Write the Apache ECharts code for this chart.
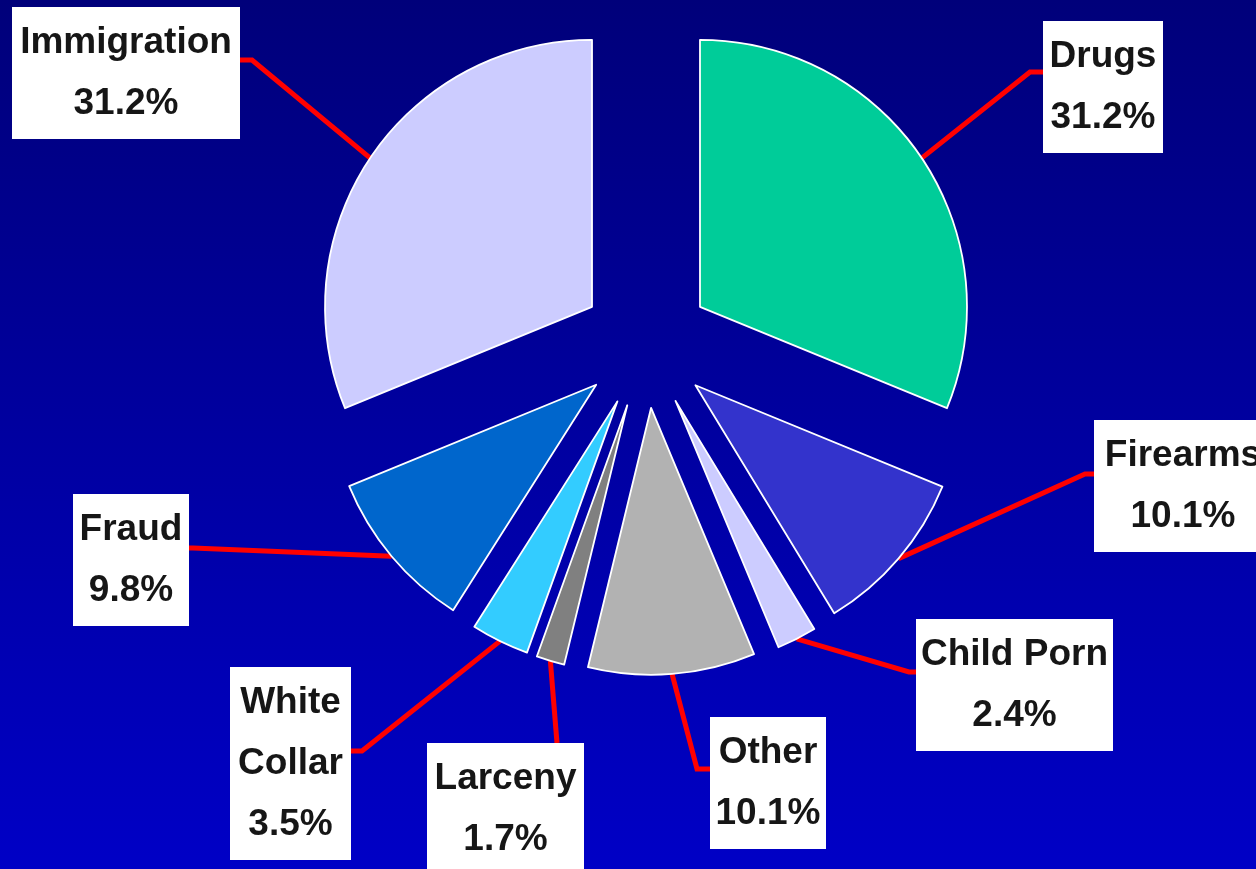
<!DOCTYPE html>
<html>
<head>
<meta charset="utf-8">
<script src="https://cdn.jsdelivr.net/npm/echarts@6/dist/echarts.min.js"></script>
<style>
  html, body { margin: 0; padding: 0; }
  #chart { width: 1256px; height: 869px; }
</style>
</head>
<body>
<div id="chart"></div>
<script>
const categories = ["Drugs", "Firearms", "Child Porn", "Other", "Larceny", "White Collar", "Fraud", "Immigration"];
const shares = [31.2, 10.1, 2.4, 10.1, 1.7, 3.5, 9.8, 31.2];
const sliceColors = ["#00CC99", "#3333CC", "#CCCCFF", "#B2B2B2", "#808080", "#33CCFF", "#0066CC", "#CCCCFF"];

const CENTER = [646, 343];
const RADIUS = 267;
const EXPLODE = 65;

// where each white label box sits, and the bend of its red leader line
const labelBoxes = {
  "Drugs":        { left: 1043, top: 21,  width: 120, bend: [1030, 72] },
  "Firearms":     { left: 1094, top: 420, width: 178, bend: [1085, 474] },
  "Child Porn":   { left: 916,  top: 619, width: 197, bend: [909, 672] },
  "Other":        { left: 710,  top: 717, width: 116, bend: [697, 769] },
  "Larceny":      { left: 427,  top: 743, width: 157, bend: [557, 743] },
  "White Collar": { left: 230,  top: 667, width: 121, bend: [362, 751] },
  "Fraud":        { left: 73,   top: 494, width: 116, bend: [193, 548] },
  "Immigration":  { left: 12,   top: 7,   width: 228, bend: [252, 60] }
};

const chart = echarts.init(document.getElementById("chart"), null, { renderer: "canvas" });

function leaderEnd(box) {
  const [bx, by] = box.bend;
  if (bx < box.left) return [box.left, by];
  if (bx > box.left + box.width) return [box.left + box.width, by];
  return [bx, by];
}

// push the pie's own label-line start point out by the explode distance
function explodedStart(p) {
  const dx = p[0] - CENTER[0], dy = p[1] - CENTER[1];
  const len = Math.hypot(dx, dy) || 1;
  return [p[0] + dx / len * EXPLODE, p[1] + dy / len * EXPLODE];
}

chart.setOption({
  animation: false,
  backgroundColor: {
    type: "linear", x: 0, y: 0, x2: 0, y2: 1,
    colorStops: [{ offset: 0, color: "#00007A" }, { offset: 1, color: "#0000C6" }]
  },
  series: [{
    // exploded slices
    type: "pie",
    center: CENTER,
    radius: [0, RADIUS],
    startAngle: 90,
    clockwise: true,
    selectedMode: "multiple",
    selectedOffset: EXPLODE,
    emphasis: { scale: false },
    select: { itemStyle: { borderColor: "#FFFFFF", borderWidth: 1.8 } },
    itemStyle: { borderColor: "#FFFFFF", borderWidth: 1.8 },
    label: { show: false },
    labelLine: { show: false },
    data: categories.map((name, i) => ({
      name,
      value: shares[i],
      selected: true,
      itemStyle: { color: sliceColors[i] }
    }))
  }, {
    // same data, invisible, only carries the boxed labels and red leaders
    type: "pie",
    center: CENTER,
    radius: [0, RADIUS],
    startAngle: 90,
    clockwise: true,
    silent: true,
    avoidLabelOverlap: false,
    itemStyle: { color: "rgba(0,0,0,0)", borderWidth: 0 },
    label: {
      show: true,
      position: "outside",
      formatter: (p) => (p.name === "White Collar" ? "White\nCollar" : p.name) + "\n" + p.value + "%",
      backgroundColor: "#FFFFFF",
      color: "#161616",
      fontFamily: "'Liberation Sans', Arial, sans-serif",
      fontWeight: "bold",
      fontSize: 37,
      lineHeight: 61,
      padding: [5, 0],
      overflow: "none",
      align: "center"
    },
    labelLine: { show: true, lineStyle: { color: "#FF0000", width: 5 } },
    labelLayout: (params) => {
      const box = labelBoxes[categories[params.dataIndex]];
      const start = explodedStart(params.labelLinePoints[0]);
      return {
        x: box.left + box.width / 2,
        y: box.top,
        align: "center",
        verticalAlign: "top",
        labelLinePoints: [start, box.bend, leaderEnd(box)]
      };
    },
    data: categories.map((name, i) => ({
      name,
      value: shares[i],
      label: { width: labelBoxes[name].width }
    }))
  }]
});
</script>
</body>
</html>
